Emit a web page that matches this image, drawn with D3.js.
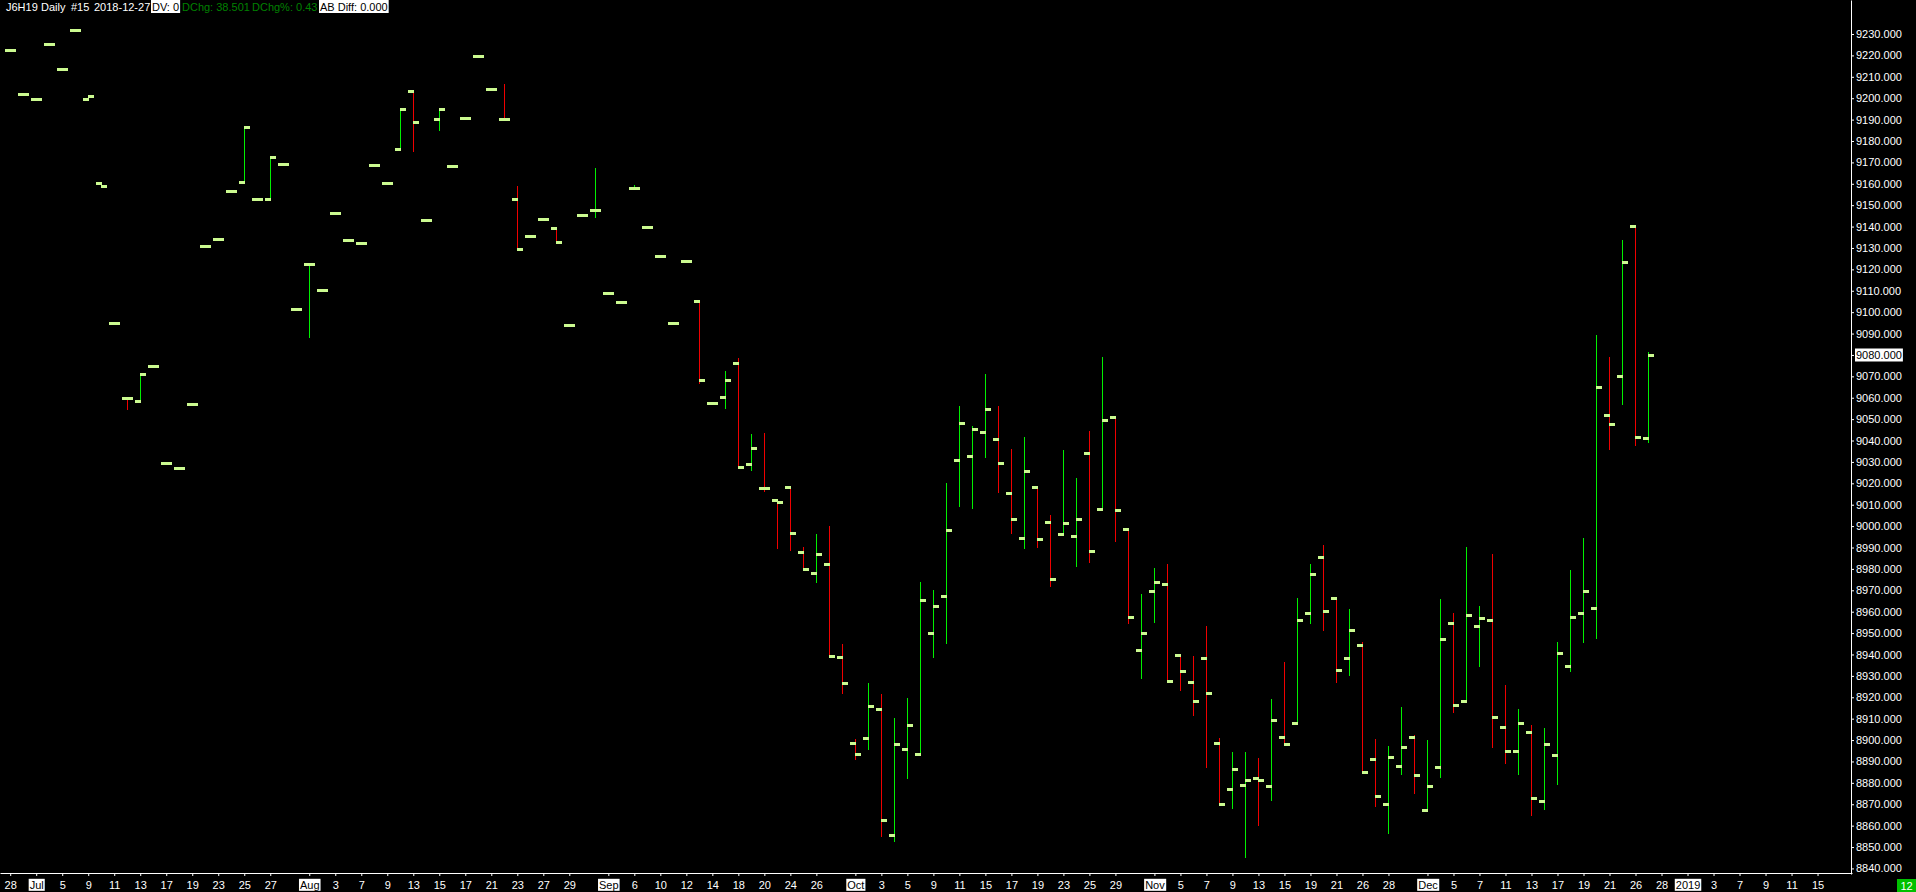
<!DOCTYPE html>
<html><head><meta charset="utf-8">
<script src="https://cdn.jsdelivr.net/npm/d3@7"></script>
<style>
html,body{margin:0;padding:0;background:#000;overflow:hidden}
svg{display:block}
text{font-family:"Liberation Sans",Arial,sans-serif;font-size:11px}
</style></head><body>
<svg id="chart" width="1916" height="892"></svg>
<script>
// ---- data ----
const dates = [
"2018-06-28","2018-06-29",
"2018-07-02","2018-07-03","2018-07-05","2018-07-06","2018-07-09","2018-07-10","2018-07-11","2018-07-12","2018-07-13",
"2018-07-16","2018-07-17","2018-07-18","2018-07-19","2018-07-20","2018-07-23","2018-07-24","2018-07-25","2018-07-26","2018-07-27",
"2018-07-30","2018-07-31",
"2018-08-01","2018-08-02","2018-08-03","2018-08-06","2018-08-07","2018-08-08","2018-08-09","2018-08-10","2018-08-13","2018-08-14",
"2018-08-15","2018-08-16","2018-08-17","2018-08-20","2018-08-21","2018-08-22","2018-08-23","2018-08-24","2018-08-27","2018-08-28",
"2018-08-29","2018-08-30","2018-08-31",
"2018-09-04","2018-09-05","2018-09-06","2018-09-07","2018-09-10","2018-09-11","2018-09-12","2018-09-13","2018-09-14","2018-09-17",
"2018-09-18","2018-09-19","2018-09-20","2018-09-21","2018-09-24","2018-09-25","2018-09-26","2018-09-27","2018-09-28",
"2018-10-01","2018-10-02","2018-10-03","2018-10-04","2018-10-05","2018-10-08","2018-10-09","2018-10-10","2018-10-11","2018-10-12",
"2018-10-15","2018-10-16","2018-10-17","2018-10-18","2018-10-19","2018-10-22","2018-10-23","2018-10-24","2018-10-25","2018-10-26",
"2018-10-29","2018-10-30","2018-10-31",
"2018-11-01","2018-11-02","2018-11-05","2018-11-06","2018-11-07","2018-11-08","2018-11-09","2018-11-12","2018-11-13","2018-11-14",
"2018-11-15","2018-11-16","2018-11-19","2018-11-20","2018-11-21","2018-11-23","2018-11-26","2018-11-27","2018-11-28","2018-11-29",
"2018-11-30",
"2018-12-03","2018-12-04","2018-12-05","2018-12-06","2018-12-07","2018-12-10","2018-12-11","2018-12-12","2018-12-13","2018-12-14",
"2018-12-17","2018-12-18","2018-12-19","2018-12-20","2018-12-21","2018-12-24","2018-12-26","2018-12-27"
];
const futureDates = ["2018-12-28","2018-12-31","2019-01-01","2019-01-02","2019-01-03","2019-01-04",
"2019-01-07","2019-01-08","2019-01-09","2019-01-10","2019-01-11","2019-01-14","2019-01-15"];

const opens = [
9222.4,9201.8,9199.5,9225.2,9213.5,9231.7,9199.5,9160.2,9094.8,9059.7,
9058.3,9074.7,9029.4,9027.0,9056.9,9130.8,9134.1,9156.5,9160.7,9152.7,
9152.7,9169.1,9101.3,9122.4,9110.2,9146.2,9133.6,9132.2,9168.6,9160.2,
9176.1,9203.2,9142.9,9190.1,9168.2,9190.6,9219.6,9204.2,9190.1,9152.7,
9135.5,9143.4,9139.2,9093.9,9145.3,9147.6,9108.8,9104.6,9157.9,9139.7,
9126.1,9094.9,9123.9,9105.0,9057.4,9060.2,9076.1,9029.0,9017.7,9012.2,
9018.1,8987.9,8978.3,8982.2,8938.6,8898.5,8900.9,8914.5,8855.6,8895.7,
8893.4,8950.0,8967.2,9030.9,9032.7,9043.8,9040.6,9015.3,8994.3,9018.1,
9001.8,8996.2,8995.2,9034.0,9007.9,9050.9,8998.5,8942.0,8969.5,8972.8,
8939.6,8927.0,8938.2,8898.5,8877.0,8878.9,8882.2,8878.4,8901.3,8907.9,
8959.3,8985.4,8966.4,8938.2,8944.3,8891.0,8870.0,8887.8,8901.2,8867.2,
8887.3,8954.5,8918.1,8953.2,8956.1,8905.9,8894.8,8903.6,8871.4,8893.0,
8934.5,8959.6,8961.6,9051.9,9070.0,9140.2,9041.1];
const highs = [
9222.4,9201.8,9199.5,9225.2,9213.5,9231.7,9201.0,9160.2,9094.8,9059.7,
9071.0,9074.7,9029.4,9027.0,9056.9,9130.8,9134.1,9156.5,9186.4,9152.7,
9172.4,9169.1,9101.3,9122.4,9110.2,9146.2,9133.6,9132.2,9168.6,9160.2,
9194.8,9203.2,9142.9,9194.8,9168.2,9190.6,9219.6,9204.2,9206.6,9159.0,
9135.5,9143.4,9139.2,9093.9,9145.3,9167.4,9108.8,9104.6,9159.4,9139.7,
9126.1,9094.9,9123.9,9105.0,9057.4,9072.6,9078.7,9043.0,9043.6,9012.2,
9018.1,8990.3,8996.4,9000.0,8944.9,8900.3,8926.7,8921.6,8910.2,8919.8,
8973.9,8970.2,9020.1,9056.2,9046.8,9071.2,9056.2,9036.0,9041.7,9018.1,
9005.2,9035.6,9022.5,9044.5,9079.0,9050.9,8998.5,8968.3,8980.4,8982.3,
8939.6,8939.3,8953.3,8901.0,8894.4,8894.4,8891.6,8919.2,8936.5,8966.4,
8982.3,8991.2,8966.4,8961.2,8945.9,8900.5,8897.3,8915.4,8902.2,8900.0,
8965.9,8959.4,8990.3,8962.6,8987.0,8925.8,8914.6,8907.1,8905.8,8945.9,
8979.5,8994.5,9089.3,9079.0,9133.7,9140.2,9081.6];
const lows = [
9222.4,9201.8,9199.5,9225.2,9213.5,9231.7,9199.5,9158.8,9094.8,9054.7,
9058.3,9074.7,9029.4,9027.0,9056.9,9130.8,9134.1,9156.5,9160.7,9152.7,
9152.7,9169.1,9101.3,9088.5,9110.2,9146.2,9133.6,9132.2,9168.6,9160.2,
9176.1,9175.5,9142.9,9185.1,9168.2,9190.6,9219.6,9204.2,9190.1,9129.4,
9135.5,9143.4,9132.7,9093.9,9145.3,9144.6,9108.8,9104.6,9157.9,9139.7,
9126.1,9094.9,9123.9,9066.9,9057.4,9055.3,9027.6,9026.4,9016.2,8989.9,
8988.9,8979.8,8973.9,8939.3,8922.0,8891.2,8895.7,8855.3,8852.7,8882.5,
8893.4,8938.8,8945.3,9009.2,9008.6,9032.1,9016.0,8996.9,8989.9,8990.4,
8972.2,8996.2,8981.5,8983.4,9007.9,8993.1,8954.7,8929.2,8955.3,8927.5,
8923.4,8911.7,8887.6,8870.0,8868.4,8845.5,8860.3,8872.1,8898.0,8907.9,
8954.7,8951.6,8927.2,8930.6,8884.9,8869.2,8856.4,8884.3,8875.1,8867.2,
8882.9,8912.9,8918.1,8934.5,8896.9,8889.4,8884.3,8865.2,8867.8,8879.6,
8932.5,8945.9,8947.7,9036.2,9057.0,9037.7,9039.3];
const closes = [
9222.4,9201.8,9199.5,9225.2,9213.5,9231.7,9201.0,9158.8,9094.8,9059.7,
9071.0,9074.7,9029.4,9027.0,9056.9,9130.8,9134.1,9156.5,9186.4,9152.7,
9172.4,9169.1,9101.3,9122.4,9110.2,9146.2,9133.6,9132.2,9168.6,9160.2,
9194.8,9188.7,9142.9,9194.8,9168.2,9190.6,9219.6,9204.2,9190.1,9129.4,
9135.5,9143.4,9132.7,9093.9,9145.3,9147.6,9108.8,9104.6,9157.9,9139.7,
9126.1,9094.9,9123.9,9068.2,9057.4,9068.5,9027.6,9036.3,9017.7,9011.2,
8996.6,8979.8,8986.9,8939.3,8926.5,8893.4,8915.7,8862.6,8898.1,8907.0,
8965.4,8962.5,8998.0,9048.1,9045.6,9054.6,9029.4,9003.2,9025.6,8993.8,
8975.2,9001.3,9003.2,8988.2,9049.5,9007.4,8957.4,8949.9,8973.7,8927.5,
8932.2,8918.1,8921.9,8870.0,8886.4,8881.2,8881.2,8909.3,8898.0,8956.0,
8977.5,8960.2,8932.7,8951.4,8884.9,8873.7,8892.0,8896.7,8883.5,8878.4,
8947.1,8916.4,8958.3,8956.9,8910.7,8894.8,8907.9,8872.9,8898.1,8940.6,
8957.5,8969.5,9064.9,9047.6,9123.3,9041.5,9080.0];

const tickDates = ["2018-06-28","2018-07-02","2018-07-05","2018-07-09","2018-07-11","2018-07-13","2018-07-17","2018-07-19",
"2018-07-23","2018-07-25","2018-07-27","2018-08-01","2018-08-03","2018-08-07","2018-08-09","2018-08-13","2018-08-15",
"2018-08-17","2018-08-21","2018-08-23","2018-08-27","2018-08-29","2018-09-04","2018-09-06","2018-09-10","2018-09-12",
"2018-09-14","2018-09-18","2018-09-20","2018-09-24","2018-09-26","2018-10-01","2018-10-03","2018-10-05","2018-10-09",
"2018-10-11","2018-10-15","2018-10-17","2018-10-19","2018-10-23","2018-10-25","2018-10-29","2018-11-01","2018-11-05",
"2018-11-07","2018-11-09","2018-11-13","2018-11-15","2018-11-19","2018-11-21","2018-11-26","2018-11-28","2018-12-03",
"2018-12-05","2018-12-07","2018-12-11","2018-12-13","2018-12-17","2018-12-19","2018-12-21","2018-12-26","2018-12-28",
"2019-01-01","2019-01-03","2019-01-07","2019-01-09","2019-01-11","2019-01-15"];
const tickLabels = ["28","Jul","5","9","11","13","17","19","23","25","27","Aug","3","7","9","13","15","17","21","23","27","29",
"Sep","6","10","12","14","18","20","24","26","Oct","3","5","9","11","15","17","19","23","25","29","Nov","5","7","9","13",
"15","19","21","26","28","Dec","5","7","11","13","17","19","21","26","28","2019","3","7","9","11","15"];
const boxedLabels = ["Jul","Aug","Sep","Oct","Nov","Dec","2019"];

const yTicks = [8840,8850,8860,8870,8880,8890,8900,8910,8920,8930,8940,8950,8960,8970,8980,8990,
9000,9010,9020,9030,9040,9050,9060,9070,9080,9090,9100,9110,9120,9130,9140,9150,9160,9170,9180,
9190,9200,9210,9220,9230];

const headerWhite = [["J6H19",6],["Daily",41],["#15",71],["2018-12-27",94]];
const headerGreen = [["DChg: 38.501",182],["DChg%: 0.43",252]];
const headerBoxed = [["DV: 0",152],["AB Diff: 0.000",320]];

// ---- drawing ----
const svg = d3.select("#chart");
svg.append("rect").attr("width",1916).attr("height",892).attr("fill","#000");

const sessions = dates.concat(futureDates);
const pos = new Map(sessions.map((d,i)=>[d,i]));
const x = d3.scaleLinear().domain([-0.785, 141.65]).range([0, 1852]);
const y = d3.scaleLinear().domain([8837.4, 9245.9]).range([874, 0]);

const UP = "#00f000", DOWN = "#f00000", TICK = "#cbfa90";

const bars = dates.map((d,i)=>({i:pos.get(d), o:opens[i], h:highs[i], l:lows[i], c:closes[i]}));
bars.forEach((b,k)=>{
  b.up = b.c > b.o ? true : (b.c < b.o ? false : (k>0 ? b.c >= bars[k-1].c : true));
});

const g = svg.append("g").attr("shape-rendering","crispEdges");
g.selectAll("rect.hl").data(bars).join("rect").attr("class","hl")
  .attr("x", d=>Math.floor(x(d.i)))
  .attr("y", d=>Math.round(y(d.h)))
  .attr("width",1)
  .attr("height", d=>Math.max(1, Math.round(y(d.l)) - Math.round(y(d.h)) + 1))
  .attr("fill", d=>d.up?UP:DOWN);
g.selectAll("rect.op").data(bars).join("rect").attr("class","op")
  .attr("x", d=>Math.floor(x(d.i))-5)
  .attr("y", d=>Math.round(y(d.o))-1)
  .attr("width",6).attr("height",3).attr("fill",TICK);
g.selectAll("rect.cl").data(bars).join("rect").attr("class","cl")
  .attr("x", d=>Math.floor(x(d.i)))
  .attr("y", d=>Math.round(y(d.c))-1)
  .attr("width",6).attr("height",3).attr("fill",TICK);

// y axis
const yAxis = svg.append("g").attr("transform","translate(1851,0)")
  .call(d3.axisRight(y).tickValues(yTicks).tickSize(3).tickSizeOuter(0).tickPadding(2)
        .tickFormat(d3.format(".3f")));
// x axis
const labelOf = new Map(tickDates.map((d,k)=>[pos.get(d), tickLabels[k]]));
const xAxis = svg.append("g").attr("transform","translate(0,873)")
  .call(d3.axisBottom(x).tickValues(tickDates.map(d=>pos.get(d))).tickSize(3).tickSizeOuter(0).tickPadding(5)
        .tickFormat(v=>labelOf.get(v)));
[yAxis,xAxis].forEach(a=>{
  a.select(".domain").attr("stroke","#fff");
  a.selectAll(".tick line").attr("stroke","#fff");
  a.selectAll(".tick text").attr("fill","#fff")
    .style("font-family",'"Liberation Sans",Arial,sans-serif').style("font-size","11px");
});
xAxis.selectAll(".tick").each(function(){
  const t = d3.select(this).select("text");
  if (boxedLabels.includes(t.text())) {
    const bb = t.node().getBBox();
    d3.select(this).insert("rect","text")
      .attr("x", bb.x-1).attr("y", bb.y).attr("width", bb.width+2).attr("height", bb.height)
      .attr("fill","#fff");
    t.attr("fill","#000");
  }
});

// last price marker
const last = closes[closes.length-1];
const lp = svg.append("g");
const lpText = lp.append("text").attr("x",1856).attr("y",y(last)).attr("dy","0.35em")
  .attr("fill","#000").text(d3.format(".3f")(Math.round(last)));
const lb = lpText.node().getBBox();
lp.insert("rect","text").attr("x",lb.x-1).attr("y",Math.round(y(last))-6.5)
  .attr("width",lb.width+2).attr("height",13).attr("fill","#fff");

// header
const hdr = svg.append("g");
headerWhite.forEach(([t,hx])=>hdr.append("text").attr("x",hx).attr("y",11).attr("fill","#fff").text(t));
headerGreen.forEach(([t,hx])=>hdr.append("text").attr("x",hx).attr("y",11).attr("fill","#008000").text(t));
headerBoxed.forEach(([t,hx])=>{
  const tx = hdr.append("text").attr("x",hx).attr("y",11).attr("fill","#000").text(t);
  const w = tx.node().getComputedTextLength();
  hdr.insert("rect","text").attr("x",hx-1).attr("y",0).attr("width",w+2).attr("height",13).attr("fill","#fff");
});

// bottom-right counter box
const cb = svg.append("g");
cb.append("rect").attr("x",1897).attr("y",879).attr("width",19).attr("height",13).attr("fill","#00c000");
cb.append("text").attr("x",1906.5).attr("y",889.5).attr("text-anchor","middle").attr("fill","#fff").text("12");
</script>
</body></html>
